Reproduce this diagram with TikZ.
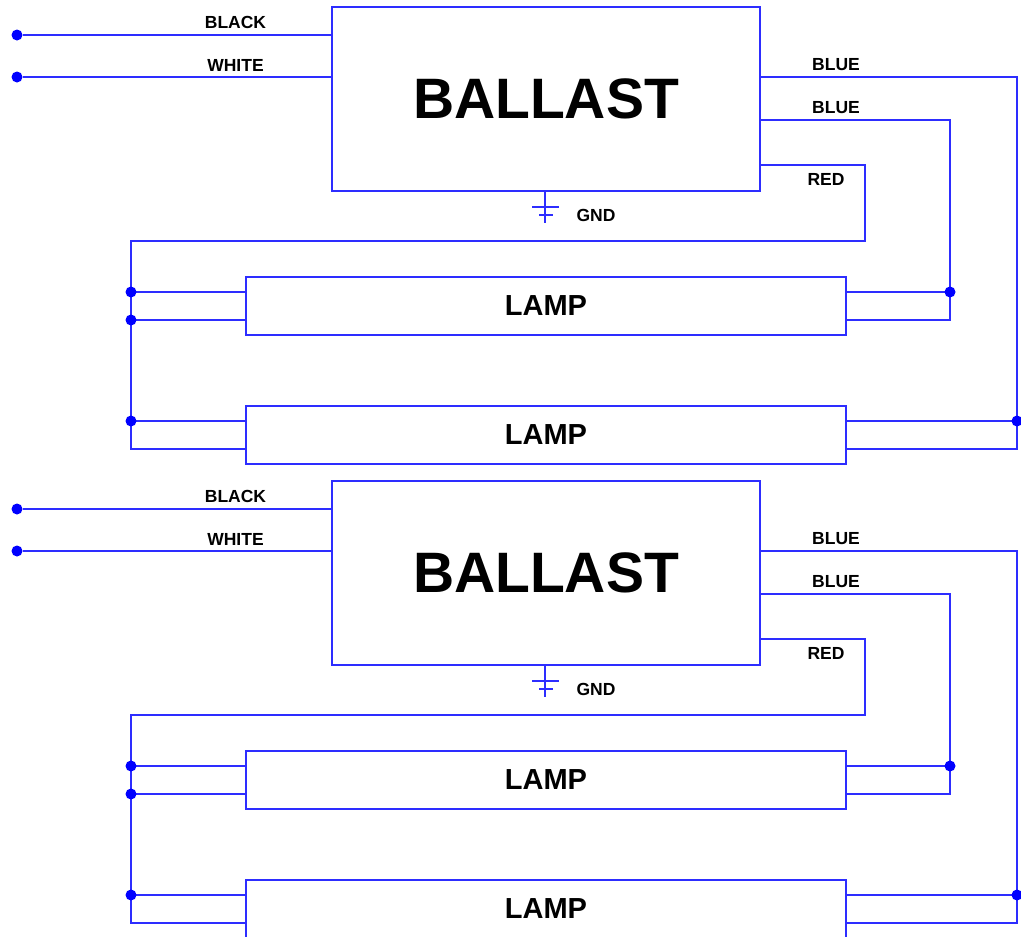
\documentclass[tikz,border=0pt]{standalone}
\usepackage{fontspec}
\setmainfont{Liberation Sans}
\usetikzlibrary{positioning}

\definecolor{wireblue}{RGB}{45,45,255}

\begin{document}
\begin{tikzpicture}[x=1pt,y=-1pt,on grid,
	box/.style={draw=wireblue,line width=2pt,rectangle,inner sep=0pt},
	ballastbox/.style={box,minimum width=428pt,minimum height=184pt,font=\fontsize{57}{60}\selectfont\bfseries},
	lampbox/.style={box,minimum width=600pt,minimum height=58pt,font=\fontsize{29}{32}\selectfont\bfseries},
	lbl/.style={inner sep=0pt,font=\fontsize{17.5}{18}\selectfont\bfseries},
	wire/.style={draw=wireblue,line width=2pt},
	dot/.style={circle,fill=blue,inner sep=0pt,minimum size=11pt}]

	\useasboundingbox (0,0) rectangle (1021,937);

	\foreach \k/\dy in {a/0,b/474}{
	\begin{scope}[yshift=-\dy pt]

		\node[ballastbox] (ballast\k) at (546,99) {BALLAST};
		\node[lampbox] (lamp\k1) [below=207pt of ballast\k] {LAMP};
		\node[lampbox] (lamp\k2) [below=129pt of lamp\k1] {LAMP};

		\node[dot] (black\k) at (17,35) {};
		\node[dot] (white\k) at (17,77) {};

		\coordinate (rail\k) at (131,241);
		\coordinate (red\k) at (865,165);
		\coordinate (blueA\k) at (1017,77);
		\coordinate (blueB\k) at (950,120);

		\coordinate (lamp\k1-wa) at ([yshift=14pt]lamp\k1.west);
		\coordinate (lamp\k1-wb) at ([yshift=-14pt]lamp\k1.west);
		\coordinate (lamp\k1-ea) at ([yshift=14pt]lamp\k1.east);
		\coordinate (lamp\k1-eb) at ([yshift=-14pt]lamp\k1.east);
		\coordinate (lamp\k2-wa) at ([yshift=14pt]lamp\k2.west);
		\coordinate (lamp\k2-wb) at ([yshift=-14pt]lamp\k2.west);
		\coordinate (lamp\k2-ea) at ([yshift=14pt]lamp\k2.east);
		\coordinate (lamp\k2-eb) at ([yshift=-14pt]lamp\k2.east);

		% mains in
		\path[wire] (black\k) -- (black\k -| ballast\k.west);
		\path[wire] (white\k) -- (white\k -| ballast\k.west);

		% red to the left rail
		\path[wire] (red\k -| ballast\k.east) -- (red\k) |- (rail\k)
			-- (rail\k |- lamp\k2-wb) -- (lamp\k2-wb);
		\path[wire] (rail\k |- lamp\k1-wa) -- (lamp\k1-wa);
		\path[wire] (rail\k |- lamp\k1-wb) -- (lamp\k1-wb);
		\path[wire] (rail\k |- lamp\k2-wa) -- (lamp\k2-wa);

		% blue to the right
		\path[wire] (blueA\k -| ballast\k.east) -- (blueA\k)
			-- (blueA\k |- lamp\k2-eb) -- (lamp\k2-eb);
		\path[wire] (lamp\k2-ea) -- (blueA\k |- lamp\k2-ea);
		\path[wire] (blueB\k -| ballast\k.east) -- (blueB\k)
			-- (blueB\k |- lamp\k1-eb) -- (lamp\k1-eb);
		\path[wire] (lamp\k1-ea) -- (blueB\k |- lamp\k1-ea);

		% ground
		\coordinate (gnd\k) at (545,191);
		\path[draw=wireblue,line width=1.6pt] (gnd\k) -- ++(0,32)
			(gnd\k) ++(-13,16) -- ++(27,0)
			(gnd\k) ++(-6,24) -- ++(14,0);

		% junctions
		\node[dot] (jl1\k) at (rail\k |- lamp\k1-wa) {};
		\node[dot] (jl2\k) at (rail\k |- lamp\k1-wb) {};
		\node[dot] (jl3\k) at (rail\k |- lamp\k2-wa) {};
		\node[dot] (jr1\k) at (blueB\k |- lamp\k1-ea) {};
		\node[dot] (jr2\k) at (blueA\k |- lamp\k2-ea) {};

		% labels
		\node[lbl] (tblack\k) at (235.5,22.7) {BLACK};
		\node[lbl] (twhite\k) at (235.5,65) {WHITE};
		\node[lbl] (tblueA\k) at (836,65) {BLUE};
		\node[lbl] (tblueB\k) at (836,107.3) {BLUE};
		\node[lbl] (tred\k) at (826,179.4) {RED};
		\node[lbl] (tgnd\k) at (596,215.4) {GND};

	\end{scope}
	}
\end{tikzpicture}
\end{document}
